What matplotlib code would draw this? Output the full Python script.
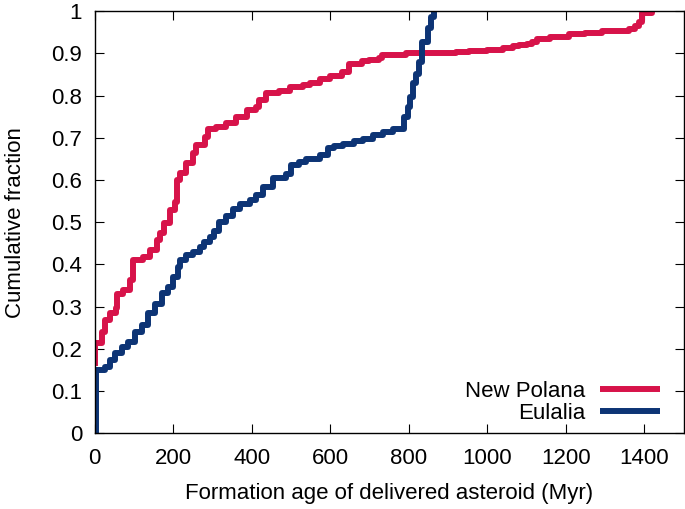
import matplotlib
matplotlib.use('Agg')
import matplotlib.pyplot as plt

# New Polana: formation age (Myr) and cumulative fraction
polana_age = [2, 2, 18, 26, 39, 54, 56, 72, 90, 97, 123, 141, 158, 166, 178, 191, 205, 209, 217,
              234, 250, 259, 281, 288, 310, 336, 361, 387, 412, 420, 437, 470, 497, 530, 548, 573,
              600, 631, 649, 680, 700, 725, 733, 793, 840, 878, 920, 954, 1000, 1040, 1065, 1081,
              1100, 1115, 1127, 1160, 1208, 1250, 1292, 1340, 1361, 1375, 1386, 1394, 1419]
polana_frac = [0.16, 0.213, 0.24, 0.268, 0.284, 0.296, 0.33, 0.339, 0.362, 0.41, 0.418, 0.434,
               0.457, 0.474, 0.497, 0.528, 0.548, 0.6, 0.616, 0.64, 0.663, 0.682, 0.702, 0.722,
               0.726, 0.736, 0.75, 0.765, 0.773, 0.789, 0.805, 0.811, 0.82, 0.825, 0.829, 0.839,
               0.846, 0.856, 0.876, 0.882, 0.884, 0.89, 0.896, 0.9, 0.9, 0.901, 0.903, 0.905, 0.909,
               0.913, 0.917, 0.92, 0.922, 0.927, 0.935, 0.94, 0.945, 0.949, 0.952, 0.954, 0.957,
               0.965, 0.975, 0.995, 1.0]

# Eulalia
eulalia_age = [5, 5, 26, 39, 52, 69, 86, 103, 120, 136, 153, 171, 187, 200, 213, 217, 234, 250,
               268, 280, 293, 305, 318, 335, 352, 370, 395, 410, 429, 454, 488, 501, 520, 539, 573,
               594, 610, 632, 660, 683, 710, 734, 760, 789, 797, 802, 810, 818, 827, 835, 848, 857,
               865]
eulalia_frac = [0.0, 0.149, 0.157, 0.173, 0.189, 0.205, 0.216, 0.24, 0.256, 0.284, 0.307, 0.331,
                0.347, 0.37, 0.394, 0.41, 0.422, 0.43, 0.441, 0.452, 0.465, 0.48, 0.5, 0.515,
                0.532, 0.542, 0.552, 0.565, 0.584, 0.604, 0.615, 0.635, 0.642, 0.649, 0.659, 0.675,
                0.68, 0.686, 0.692, 0.698, 0.706, 0.714, 0.72, 0.75, 0.773, 0.797, 0.829, 0.852,
                0.88, 0.927, 0.959, 0.987, 1.0]

x_ticks = [0, 200, 400, 600, 800, 1000, 1200, 1400]
y_ticks = [0, 0.1, 0.2, 0.3, 0.4, 0.5, 0.6, 0.7, 0.8, 0.9, 1]
y_labels = ['0', '0.1', '0.2', '0.3', '0.4', '0.5', '0.6', '0.7', '0.8', '0.9', '1']

plt.rcParams['font.family'] = ['Liberation Sans', 'DejaVu Sans']
plt.rcParams['font.size'] = 16

fig = plt.figure(figsize=(6.85, 5.09), dpi=100)
ax = fig.add_axes([0.138, 0.149, 0.860, 0.829])

# линии
ax.plot(polana_age, polana_frac, drawstyle='steps-post', color='#d7134a', lw=4.3,
        solid_capstyle='butt', label='New Polana')
ax.plot(eulalia_age, eulalia_frac, drawstyle='steps-post', color='#0d3475', lw=4.3,
        solid_capstyle='butt', label='Eulalia')

ax.set_xlim(0, 1500)
ax.set_ylim(0, 1)
ax.set_xticks(x_ticks)
ax.set_yticks(y_ticks)
ax.set_yticklabels(y_labels)
ax.tick_params(direction='in', length=6.5, width=0.8, top=True, right=True)
ax.tick_params(axis='x', pad=11)
ax.tick_params(axis='y', pad=9)
for s in ax.spines.values():
    s.set_linewidth(1.0)

ax.set_xlabel('Formation age of delivered asteroid (Myr)', labelpad=10)
ax.set_ylabel('Cumulative fraction', labelpad=18)

ax.legend(loc='lower right', bbox_to_anchor=(0.975, 0.0), frameon=False, markerfirst=False,
          handlelength=2.7, handletextpad=0.65, labelspacing=0.05, borderaxespad=0)

plt.savefig('out.png', dpi=100)
plt.close()
